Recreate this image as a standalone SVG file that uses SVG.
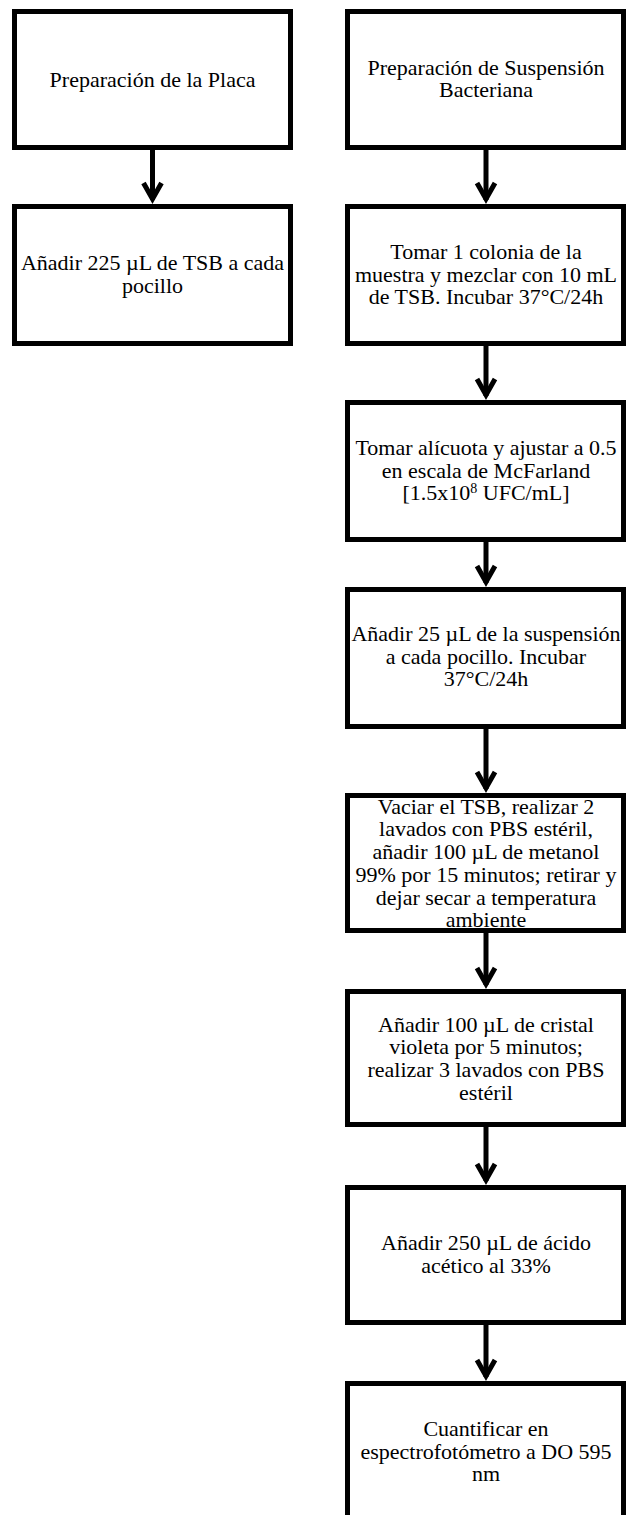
<svg xmlns="http://www.w3.org/2000/svg" width="626" height="1515" viewBox="0 0 626 1515">
<style>
.box{fill:#fff;stroke:#000;stroke-width:5}
.t{font-family:"Liberation Serif","Times New Roman",serif;font-size:22px;fill:#000;text-anchor:middle}
.sh{stroke:#000;stroke-width:5;fill:none}
.hd{stroke:#000;stroke-width:5;fill:none;stroke-linejoin:miter}
</style>
<rect width="626" height="1515" fill="#fff"/>
<g id="connectors">
<line class="sh" x1="152.5" y1="150" x2="152.5" y2="200"/>
<polyline class="hd" points="143.5,183 152.5,199 161.5,183"/>
<line class="sh" x1="486" y1="150" x2="486" y2="200"/>
<polyline class="hd" points="477,183 486,199 495,183"/>
<line class="sh" x1="486" y1="346" x2="486" y2="396"/>
<polyline class="hd" points="477,379 486,395 495,379"/>
<line class="sh" x1="486" y1="542" x2="486" y2="583"/>
<polyline class="hd" points="477,566 486,582 495,566"/>
<line class="sh" x1="486" y1="729" x2="486" y2="789"/>
<polyline class="hd" points="477,772 486,788 495,772"/>
<line class="sh" x1="486" y1="933" x2="486" y2="985"/>
<polyline class="hd" points="477,968 486,984 495,968"/>
<line class="sh" x1="486" y1="1127" x2="486" y2="1181"/>
<polyline class="hd" points="477,1164 486,1180 495,1164"/>
<line class="sh" x1="486" y1="1325" x2="486" y2="1377"/>
<polyline class="hd" points="477,1360 486,1376 495,1360"/>
</g>
<g id="n1">
<rect class="box" x="14.5" y="11.5" width="276" height="136"/>
<text class="t" x="152.5" y="86.5">Preparación de la Placa</text>
</g>
<g id="n2">
<rect class="box" x="14.5" y="206.5" width="276" height="137"/>
<text class="t" x="152.5" y="270">Añadir 225 µL de TSB a cada</text>
<text class="t" x="152.5" y="292.7">pocillo</text>
</g>
<g id="n3">
<rect class="box" x="347.5" y="11.5" width="276" height="136"/>
<text class="t" x="486" y="74.6">Preparación de Suspensión</text>
<text class="t" x="486" y="97.3">Bacteriana</text>
</g>
<g id="n4">
<rect class="box" x="347.5" y="206.5" width="276" height="137"/>
<text class="t" x="486" y="258.8">Tomar 1 colonia de la</text>
<text class="t" x="486" y="281.5">muestra y mezclar con 10 mL</text>
<text class="t" x="486" y="304.2">de TSB. Incubar 37°C/24h</text>
</g>
<g id="n5">
<rect class="box" x="347.5" y="402.5" width="276" height="137"/>
<text class="t" x="486" y="454.8">Tomar alícuota y ajustar a 0.5</text>
<text class="t" x="486" y="477.5">en escala de McFarland</text>
<text class="t" x="486" y="500.2">[1.5x10<tspan font-size="14" dy="-7">8</tspan><tspan dy="7"> UFC/mL]</tspan></text>
</g>
<g id="n6">
<rect class="box" x="347.5" y="589.5" width="276" height="137"/>
<text class="t" x="486" y="640.8">Añadir 25 µL de la suspensión</text>
<text class="t" x="486" y="663.5">a cada pocillo. Incubar</text>
<text class="t" x="486" y="686.2">37°C/24h</text>
</g>
<g id="n7">
<rect class="box" x="347.5" y="795.5" width="276" height="135"/>
<text class="t" x="486" y="813.7">Vaciar el TSB, realizar 2</text>
<text class="t" x="486" y="836.4">lavados con PBS estéril,</text>
<text class="t" x="486" y="859.1">añadir 100 µL de metanol</text>
<text class="t" x="486" y="881.8">99% por 15 minutos; retirar y</text>
<text class="t" x="486" y="904.5">dejar secar a temperatura</text>
<text class="t" x="486" y="927.2">ambiente</text>
</g>
<g id="n8">
<rect class="box" x="347.5" y="991.5" width="276" height="133"/>
<text class="t" x="486" y="1031.5">Añadir 100 µL de cristal</text>
<text class="t" x="486" y="1054.2">violeta por 5 minutos;</text>
<text class="t" x="486" y="1076.9">realizar 3 lavados con PBS</text>
<text class="t" x="486" y="1099.6">estéril</text>
</g>
<g id="n9">
<rect class="box" x="347.5" y="1187.5" width="276" height="135"/>
<text class="t" x="486" y="1250">Añadir 250 µL de ácido</text>
<text class="t" x="486" y="1272.7">acético al 33%</text>
</g>
<g id="n10">
<rect class="box" x="347.5" y="1383.5" width="276" height="160"/>
<text class="t" x="486" y="1435.8">Cuantificar en</text>
<text class="t" x="486" y="1458.5">espectrofotómetro a DO 595</text>
<text class="t" x="486" y="1481.2">nm</text>
</g>
</svg>
